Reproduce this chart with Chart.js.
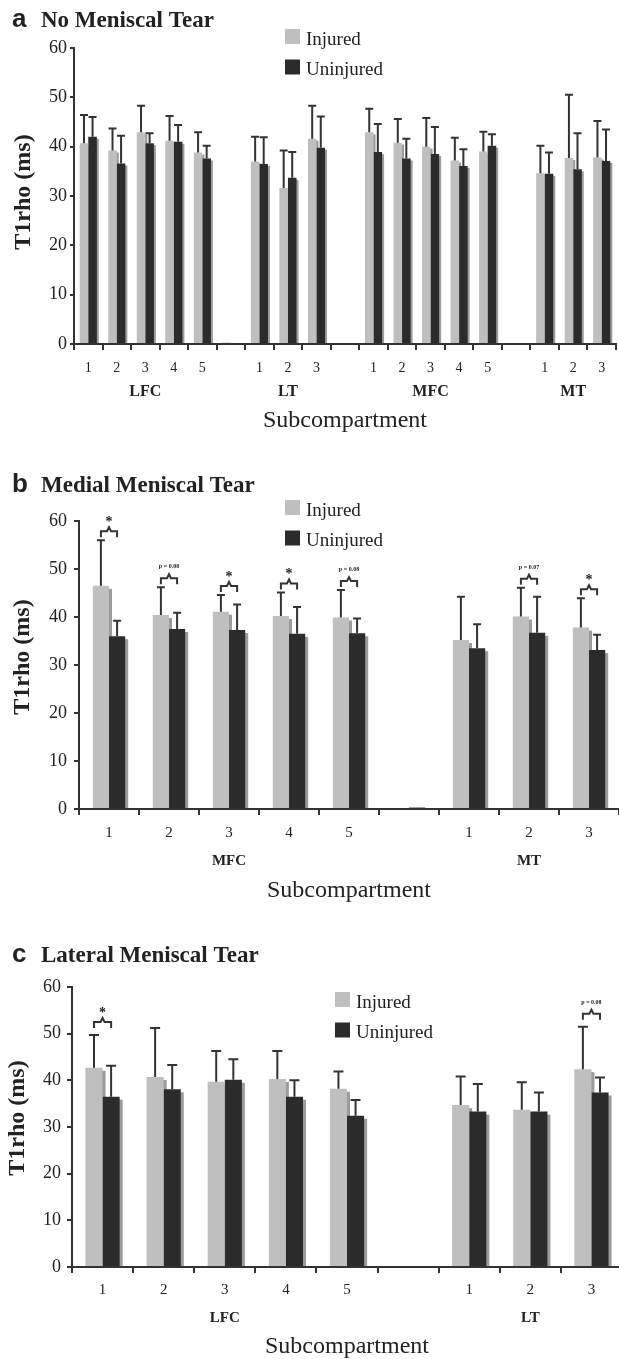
<!DOCTYPE html>
<html>
<head>
<meta charset="utf-8">
<script src="https://cdn.jsdelivr.net/npm/chart.js@4.4.1/dist/chart.umd.min.js"></script>
<style>
  html, body { margin: 0; padding: 0; background: #fff; width: 619px; height: 1359px; overflow: hidden; position: relative; }
  canvas { position: absolute; left: 0; }
</style>
</head>
<body>
<canvas id="pa" width="619" height="440" style="top:0"></canvas>
<canvas id="pb" width="619" height="470" style="top:440px"></canvas>
<canvas id="pc" width="625" height="465" style="top:900px"></canvas>
<script>
// panel a: no meniscal tear
var catsA   = ['1','2','3','4','5','','1','2','3','','1','2','3','4','5','','1','2','3'];
var groupsA = ['','','LFC','','','','','LT','','','','','MFC','','','','','MT',''];
var injA    = [40.7, 39.2, 42.9, 41.2, 38.8, 0.3, 37.0, 31.6, 41.6, null, 42.9, 40.8, 40.0, 37.2, 39.0, null, 34.6, 37.7, 37.8];
var injSdA  = [5.7, 4.5, 5.4, 5.0, 4.1, null, 5.0, 7.6, 6.7, null, 4.8, 4.8, 5.8, 4.6, 4.0, null, 5.6, 12.8, 7.4];
var unjA    = [42.0, 36.6, 40.7, 41.0, 37.6, null, 36.5, 33.7, 39.8, null, 38.9, 37.6, 38.5, 36.1, 40.2, null, 34.5, 35.4, 37.1];
var unjSdA  = [4.0, 5.6, 2.0, 3.4, 2.6, null, 5.4, 5.2, 6.3, null, 5.7, 4.0, 5.5, 3.4, 2.3, null, 4.3, 7.3, 6.4];
var sigA    = [];

// panel b: medial meniscal tear
var catsB   = ['1','2','3','4','5','','1','2','3'];
var groupsB = ['','','MFC','','','','','MT',''];
var injB    = [46.5, 40.4, 41.1, 40.2, 39.9, null, 35.2, 40.1, 37.8];
var injSdB  = [9.5, 5.8, 3.5, 4.9, 5.7, null, 9.0, 6.0, 6.1];
var unjB    = [36.0, 37.5, 37.3, 36.5, 36.6, 0.3, 33.5, 36.7, 33.1];
var unjSdB  = [3.2, 3.4, 5.3, 5.6, 3.1, null, 5.0, 7.5, 3.2];
var sigB    = ['*', 'p = 0.08', '*', '*', 'p = 0.08', '', '', 'p = 0.07', '*'];

// panel c: lateral meniscal tear
var catsC   = ['1','2','3','4','5','','1','2','3'];
var groupsC = ['','','LFC','','','','','LT',''];
var injC    = [42.7, 40.7, 39.7, 40.3, 38.2, null, 34.7, 33.7, 42.4];
var injSdC  = [7.0, 10.5, 6.6, 6.0, 3.7, null, 6.1, 5.9, 9.1];
var unjC    = [36.5, 38.1, 40.1, 36.5, 32.4, null, 33.3, 33.3, 37.4];
var unjSdC  = [6.6, 5.2, 4.4, 3.5, 3.4, null, 5.9, 4.1, 3.2];
var sigC    = ['*', '', '', '', '', '', '', '', 'p = 0.08'];

var seriesNames = ['Injured', 'Uninjured'];
var yMin = 0, yMax = 60, yStep = 10;

var ink = '#222', axis = '#333', light = '#bfbfbf', dark = '#2b2b2b', shade = '#9c9c9c';
var serif = '"Liberation Serif", "Times New Roman", serif';

// shadows, error bars, brackets, legend and titles
var decor = {
  id: 'decor',
  beforeDatasetsDraw: function (chart, args, o) {
    var ctx = chart.ctx;
    ctx.save();
    ctx.fillStyle = shade;
    chart.data.datasets.forEach(function (ds, di) {
      chart.getDatasetMeta(di).data.forEach(function (el, i) {
        if (ds.data[i] == null) return;
        var h = el.base - el.y - o.shadow[1];
        if (h <= 0) return;
        ctx.fillRect(el.x - el.width / 2 + o.shadow[0], el.y + o.shadow[1], el.width, h);
      });
    });
    ctx.restore();
  },
  afterDatasetsDraw: function (chart, args, o) {
    var ctx = chart.ctx, ys = chart.scales.y;
    ctx.save();
    ctx.strokeStyle = axis;
    ctx.lineWidth = 2;
    o.errors.forEach(function (sd, di) {
      var meta = chart.getDatasetMeta(di), vals = chart.data.datasets[di].data;
      sd.forEach(function (s, i) {
        if (s == null || vals[i] == null) return;
        var el = meta.data[i];
        var top = ys.getPixelForValue(vals[i] + s);
        ctx.beginPath();
        ctx.moveTo(el.x, el.y); ctx.lineTo(el.x, top);
        ctx.moveTo(el.x - o.cap / 2, top); ctx.lineTo(el.x + o.cap / 2, top);
        ctx.stroke();
      });
    });
    // significance brackets
    var m0 = chart.getDatasetMeta(0), m1 = chart.getDatasetMeta(1);
    var d0 = chart.data.datasets[0].data, d1 = chart.data.datasets[1].data;
    o.sig.forEach(function (lab, i) {
      if (!lab) return;
      var top = Math.max(d0[i] + o.errors[0][i], d1[i] + o.errors[1][i]);
      var py = ys.getPixelForValue(top) - o.sigGap;
      var x1 = m0.data[i].x, x2 = m1.data[i].x, xm = (x1 + x2) / 2;
      ctx.beginPath();
      ctx.moveTo(x1, py + 6); ctx.lineTo(x1, py); ctx.lineTo(xm - 2, py);
      ctx.lineTo(xm, py - 4); ctx.lineTo(xm + 2, py); ctx.lineTo(x2, py); ctx.lineTo(x2, py + 6);
      ctx.stroke();
      ctx.fillStyle = ink;
      ctx.textAlign = 'center';
      if (lab === '*') {
        ctx.font = 'bold 14px ' + serif;
        ctx.textBaseline = 'middle';
        ctx.fillText('*', xm, py - 9);
      } else {
        ctx.font = 'bold 6px ' + serif;
        ctx.textBaseline = 'alphabetic';
        ctx.fillText(lab, xm, py - 10);
      }
    });
    ctx.restore();
  },
  afterDraw: function (chart, args, o) {
    var ctx = chart.ctx;
    ctx.save();
    ctx.fillStyle = ink;
    ctx.textAlign = 'left';
    ctx.textBaseline = 'alphabetic';
    ctx.font = 'bold 26px "Liberation Sans", Arial, sans-serif';
    ctx.fillText(o.letter, 12, o.titleBase);
    ctx.font = 'bold 23px ' + serif;
    ctx.fillText(o.title, 41, o.titleBase);
    // legend
    ctx.font = '19px ' + serif;
    chart.data.datasets.forEach(function (ds, di) {
      var top = o.legend[1] + di * 30.5;
      ctx.fillStyle = ds.backgroundColor;
      ctx.fillRect(o.legend[0], top, 15, 15);
      ctx.fillStyle = ink;
      ctx.fillText(ds.label, o.legend[0] + 21, top + 15.5);
    });
    // y title
    ctx.translate(o.yTitle[0], o.yTitle[1]);
    ctx.rotate(-Math.PI / 2);
    ctx.textAlign = 'center';
    ctx.textBaseline = 'middle';
    ctx.font = 'bold 24px ' + serif;
    ctx.fillText('T1rho (ms)', 0, 0);
    ctx.restore();
  }
};

function panel(id, p) {
  return new Chart(document.getElementById(id), {
    type: 'bar',
    data: {
      labels: p.cats,
      datasets: [
        { label: seriesNames[0], data: p.inj, backgroundColor: light, categoryPercentage: p.catPct, barPercentage: 1 },
        { label: seriesNames[1], data: p.unj, backgroundColor: dark, categoryPercentage: p.catPct, barPercentage: 1 }
      ]
    },
    options: {
      responsive: false,
      animation: false,
      layout: { padding: p.pad },
      plugins: {
        legend: { display: false },
        tooltip: { enabled: false },
        decor: {
          errors: [p.injSd, p.unjSd], sig: p.sig, sigGap: p.sigGap, cap: p.cap, shadow: p.shadow,
          legend: p.legend, letter: p.letter, title: p.title, titleBase: p.titleBase, yTitle: p.yTitle
        }
      },
      scales: {
        y: {
          min: yMin, max: yMax,
          afterFit: function (s) { s.width = p.yWidth; },
          border: { display: true, color: axis, width: 2 },
          grid: { drawOnChartArea: false, drawTicks: true, tickLength: p.yTick, color: axis, lineWidth: 2 },
          ticks: { stepSize: yStep, padding: p.yPad, color: ink, font: { family: serif, size: 18 } }
        },
        x: {
          afterFit: function (s) { s.height = p.xH; },
          border: { display: true, color: axis, width: 2 },
          grid: { drawOnChartArea: false, drawTicks: true, tickLength: 6, color: axis, lineWidth: 2 },
          ticks: { autoSkip: false, maxRotation: 0, padding: p.xPad, color: ink, font: { family: serif, size: p.xFont } }
        },
        x2: {
          type: 'category',
          position: 'bottom',
          labels: p.groups,
          offset: true,
          afterFit: function (s) { s.height = p.x2H; },
          border: { display: false },
          grid: { display: false, drawTicks: false },
          ticks: { autoSkip: false, maxRotation: 0, padding: p.x2Pad, color: ink, font: { family: serif, size: p.gFont, weight: 'bold' } },
          title: { display: true, text: 'Subcompartment', color: ink, padding: { top: 0, bottom: p.tPad }, font: { family: serif, size: 24 } }
        }
      }
    },
    plugins: [decor]
  });
}

panel('pa', {
  cats: catsA, groups: groupsA, inj: injA, injSd: injSdA, unj: unjA, unjSd: unjSdA, sig: sigA,
  catPct: 0.6, pad: { top: 48, right: 3, bottom: 0, left: 0 },
  yWidth: 74, yTick: 4, yPad: 3, xH: 34, xPad: 10, xFont: 14, x2H: 62, x2Pad: 4, gFont: 16, tPad: 5,
  shadow: [2, 2], cap: 8, sigGap: 9, legend: [285, 29], letter: 'a', title: 'No Meniscal Tear',
  titleBase: 27, yTitle: [24, 192]
});

panel('pb', {
  cats: catsB, groups: groupsB, inj: injB, injSd: injSdB, unj: unjB, unjSd: unjSdB, sig: sigB,
  catPct: 0.54, pad: { top: 81, right: 0, bottom: 0, left: 0 },
  yWidth: 79, yTick: 5, yPad: 7, xH: 36, xPad: 9, xFont: 15, x2H: 65, x2Pad: 7, gFont: 15, tPad: 5,
  shadow: [3, 3], cap: 8, sigGap: 9, legend: [285, 60], letter: 'b', title: 'Medial Meniscal Tear',
  titleBase: 52, yTitle: [23, 217]
});

panel('pc', {
  cats: catsC, groups: groupsC, inj: injC, injSd: injSdC, unj: unjC, unjSd: unjSdC, sig: sigC,
  catPct: 0.56, pad: { top: 87, right: 3, bottom: 0, left: 0 },
  yWidth: 72, yTick: 5, yPad: 6, xH: 34, xPad: 8, xFont: 15, x2H: 64, x2Pad: 8, gFont: 15, tPad: 4,
  shadow: [3, 3], cap: 10, sigGap: 13, legend: [335, 92], letter: 'c', title: 'Lateral Meniscal Tear',
  titleBase: 62, yTitle: [18, 218]
});
</script>
</body>
</html>
